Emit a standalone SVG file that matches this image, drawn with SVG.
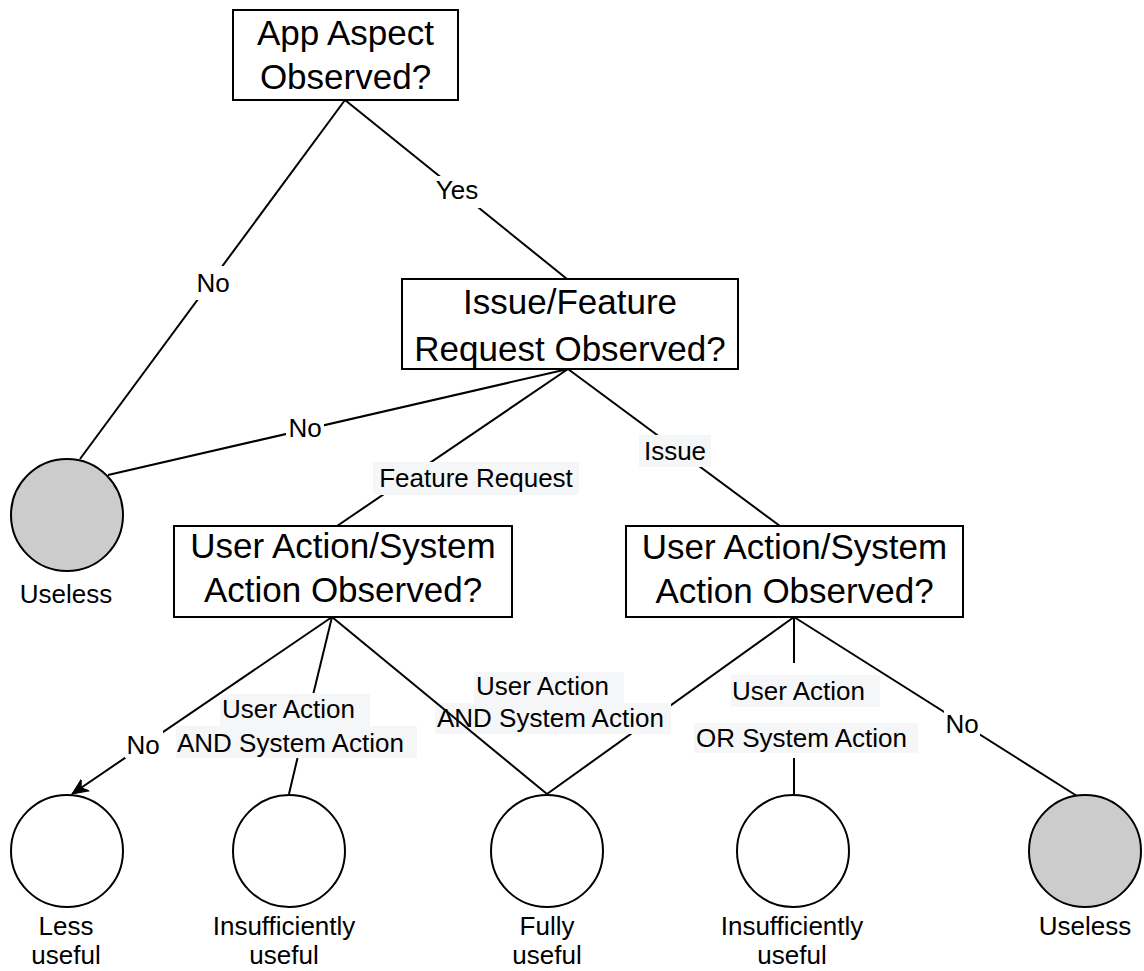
<svg xmlns="http://www.w3.org/2000/svg" width="1144" height="971" viewBox="0 0 1144 971">
  <style>
    .box { fill: #ffffff; stroke: #000000; stroke-width: 2; }
    .leaf { fill: #ffffff; stroke: #000000; stroke-width: 2; }
    .leaf.grey { fill: #cccccc; }
    .edge { fill: none; stroke: #000000; stroke-width: 2; }
    .title { font-family: "Liberation Sans", Arial, sans-serif; font-size: 35px; fill: #000000; text-anchor: middle; }
    .lbl { font-family: "Liberation Sans", Arial, sans-serif; font-size: 26px; fill: #000000; }
    .mid { text-anchor: middle; }
    .bgw { fill: #ffffff; }
    .bgg { fill: #f5f6f8; }
  </style>
  <defs>
    <marker id="arrow" markerUnits="userSpaceOnUse" markerWidth="20" markerHeight="16" viewBox="-16 -8 20 16" refX="0" refY="0" orient="auto">
      <path d="M0,0 L-16,-7 L-11,0 L-16,7 Z" fill="#000000" stroke="#000000" stroke-width="1"/>
    </marker>
  </defs>

  <rect width="1144" height="971" fill="#ffffff"/>

  <!-- connectors -->
  <g id="connectors">
    <!-- App Aspect -> Useless (No) -->
    <line class="edge" x1="345" y1="100" x2="80" y2="459"/>
    <!-- App Aspect -> Issue/Feature (Yes) -->
    <line class="edge" x1="345" y1="100" x2="567" y2="279"/>
    <!-- Issue/Feature -> Useless (No) -->
    <line class="edge" x1="568" y1="369" x2="108" y2="475"/>
    <!-- Issue/Feature -> left action box (Feature Request) -->
    <line class="edge" x1="568" y1="369" x2="337" y2="526"/>
    <!-- Issue/Feature -> right action box (Issue) -->
    <line class="edge" x1="568" y1="369" x2="780" y2="526"/>
    <!-- left action box -> Less useful (No) -->
    <line class="edge" x1="332" y1="617" x2="72" y2="794" marker-end="url(#arrow)"/>
    <!-- left action box -> Insufficiently useful, split around its label -->
    <line class="edge" x1="332" y1="617" x2="313.5" y2="693"/>
    <line class="edge" x1="297.5" y1="758" x2="289" y2="794"/>
    <!-- right action box -> Fully useful -->
    <line class="edge" x1="794" y1="617" x2="547" y2="794"/>
    <!-- right action box -> Insufficiently useful, split around its label -->
    <line class="edge" x1="794" y1="617" x2="794" y2="663"/>
    <line class="edge" x1="794" y1="758" x2="794" y2="794"/>
    <!-- right action box -> Useless (No) -->
    <line class="edge" x1="794" y1="617" x2="1077" y2="796"/>

    <!-- edge labels -->
    <g id="label-no-1">
      <rect class="bgw" x="196" y="266" width="34" height="34"/>
      <text class="lbl mid" x="213" y="292">No</text>
    </g>
    <g id="label-yes">
      <rect class="bgw" x="433" y="176" width="48" height="32"/>
      <text class="lbl mid" x="457" y="199">Yes</text>
    </g>
    <g id="label-no-2">
      <rect class="bgw" x="286" y="414" width="38" height="30"/>
      <text class="lbl mid" x="305" y="437">No</text>
    </g>
    <g id="label-feature-request">
      <rect class="bgg" x="373" y="462" width="206" height="33"/>
      <text class="lbl mid" x="476" y="487">Feature Request</text>
    </g>
    <g id="label-issue">
      <rect class="bgg" x="639" y="435" width="72" height="32"/>
      <text class="lbl mid" x="675" y="460">Issue</text>
    </g>
    <g id="label-no-3">
      <rect class="bgw" x="125" y="731" width="38" height="27"/>
      <text class="lbl mid" x="143" y="754">No</text>
    </g>
    <g id="label-and-left">
      <rect class="bgg" x="220" y="694" width="150" height="32"/>
      <rect class="bgg" x="176" y="726" width="241" height="32"/>
      <text class="lbl" x="222" y="718">User Action</text>
      <text class="lbl" x="177" y="752">AND System Action</text>
    </g>
    <g id="label-and-mid">
      <rect class="bgg" x="474" y="672" width="150" height="31"/>
      <rect class="bgg" x="435" y="703" width="236" height="31"/>
      <text class="lbl" x="476" y="695">User Action</text>
      <text class="lbl" x="437" y="727">AND System Action</text>
    </g>
    <g id="label-or-right">
      <rect class="bgg" x="731" y="675" width="149" height="32"/>
      <rect class="bgg" x="694" y="723" width="224" height="30"/>
      <text class="lbl" x="732" y="700">User Action</text>
      <text class="lbl" x="696" y="747">OR System Action</text>
    </g>
    <g id="label-no-4">
      <rect class="bgw" x="944" y="710" width="36" height="28"/>
      <text class="lbl mid" x="962" y="733">No</text>
    </g>

    <!-- left action box -> Fully useful, drawn over the neighbouring label -->
    <line class="edge" x1="332" y1="617" x2="547" y2="794"/>
  </g>

  <!-- decision nodes -->
  <g id="node-app-aspect">
    <rect class="box" x="233" y="10" width="225" height="90"/>
    <text class="title" x="345.5" y="45">App Aspect</text>
    <text class="title" x="345.5" y="89">Observed?</text>
  </g>
  <g id="node-issue-feature">
    <rect class="box" x="402" y="279" width="336" height="90"/>
    <text class="title" x="570" y="314">Issue/Feature</text>
    <text class="title" x="570" y="361">Request Observed?</text>
  </g>
  <g id="node-action-left">
    <rect class="box" x="174" y="526" width="338" height="91"/>
    <text class="title" x="343" y="558">User Action/System</text>
    <text class="title" x="343" y="602">Action Observed?</text>
  </g>
  <g id="node-action-right">
    <rect class="box" x="626" y="526" width="337" height="91"/>
    <text class="title" x="794.5" y="559">User Action/System</text>
    <text class="title" x="794.5" y="603">Action Observed?</text>
  </g>

  <!-- outcome nodes -->
  <g id="node-useless-top">
    <circle class="leaf grey" cx="67" cy="515" r="56"/>
    <text class="lbl mid" x="66" y="603">Useless</text>
  </g>
  <g id="node-less-useful">
    <circle class="leaf" cx="67" cy="851" r="56"/>
    <text class="lbl mid" x="66" y="935">Less</text>
    <text class="lbl mid" x="66" y="964">useful</text>
  </g>
  <g id="node-insufficient-left">
    <circle class="leaf" cx="289" cy="851" r="56"/>
    <text class="lbl mid" x="284" y="935">Insufficiently</text>
    <text class="lbl mid" x="284" y="964">useful</text>
  </g>
  <g id="node-fully-useful">
    <circle class="leaf" cx="547" cy="851" r="56"/>
    <text class="lbl mid" x="547" y="935">Fully</text>
    <text class="lbl mid" x="547" y="964">useful</text>
  </g>
  <g id="node-insufficient-right">
    <circle class="leaf" cx="793" cy="851" r="56"/>
    <text class="lbl mid" x="792" y="935">Insufficiently</text>
    <text class="lbl mid" x="792" y="964">useful</text>
  </g>
  <g id="node-useless-bottom">
    <circle class="leaf grey" cx="1085" cy="851" r="56"/>
    <text class="lbl mid" x="1085" y="935">Useless</text>
  </g>
</svg>
